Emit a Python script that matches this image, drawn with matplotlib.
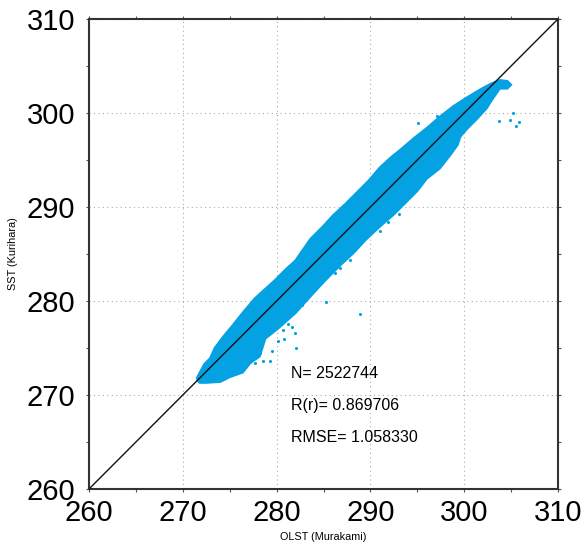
import matplotlib
matplotlib.use("Agg")
import matplotlib.pyplot as plt
from matplotlib.ticker import MultipleLocator

plt.rcParams['font.family'] = ['Liberation Sans', 'DejaVu Sans']

# Outline of the dense point cloud
upper_x = [271.6, 271.5, 271.7, 272.3, 272.9, 273.4, 274.3, 275.3, 276.5, 277.7, 278.8,
           279.8, 281.0, 282.0, 283.6, 285.0, 286.0, 287.3, 288.5, 289.8, 291.0, 292.2,
           293.2, 294.6, 296.0, 297.4, 298.8, 300.2, 301.7, 302.8, 303.8, 304.6, 305.0]
upper_y = [271.5, 271.8, 272.2, 273.3, 273.9, 275.0, 276.2, 277.4, 278.9, 280.3, 281.3,
           282.2, 283.4, 284.3, 286.6, 288.0, 289.1, 290.3, 291.5, 292.8, 294.2, 295.3,
           296.1, 297.3, 298.4, 299.6, 300.7, 301.6, 302.5, 303.1, 303.5, 303.4, 303.0]
lower_x = [304.6, 303.8, 302.9, 302.4, 301.3, 300.3, 299.6, 299.3, 298.5, 297.4, 296.0,
           295.0, 293.9, 292.5, 291.0, 289.5, 288.2, 286.8, 285.3, 283.9, 282.0, 280.2,
           278.8, 278.2, 277.2, 276.4, 275.0, 274.0, 272.5, 271.8]
lower_y = [302.6, 302.6, 301.3, 300.5, 299.3, 298.3, 297.5, 296.6, 295.5, 294.1, 293.0,
           291.7, 290.6, 289.2, 287.9, 286.5, 285.1, 283.8, 282.3, 280.8, 278.7, 277.1,
           276.0, 274.1, 273.4, 272.4, 271.9, 271.4, 271.3, 271.3]

# Isolated points outside the cloud
out_x = [277.7, 278.5, 279.3, 279.5, 280.1, 280.8, 280.7, 281.2, 282.0, 282.1, 288.9,
         285.3, 282.7, 286.8, 287.8, 285.0, 291.0, 291.9, 293.0, 305.2, 303.7, 304.9,
         305.8, 305.5, 295.1, 297.1, 304.5, 278.2, 281.6, 286.2]
out_y = [273.4, 273.6, 273.6, 274.7, 275.7, 276.0, 276.9, 277.6, 276.6, 275.0, 278.6,
         279.9, 279.6, 283.5, 284.4, 282.4, 287.4, 288.4, 289.3, 300.0, 299.2, 299.3,
         299.0, 298.6, 298.9, 299.7, 303.4, 274.5, 277.2, 283.0]

stats_labels = ["N= 2522744", "R(r)= 0.869706", "RMSE= 1.058330"]
stats_y = [272.3, 268.9, 265.5]
stats_x = 281.5

ticks = [260, 270, 280, 290, 300, 310]
color = '#04A1E3'

fig = plt.figure(figsize=(5.84, 5.44), dpi=100)
ax = fig.add_axes([89/584, 1 - 489/544, 469/584, 470/544])

poly_x = upper_x + lower_x
poly_y = upper_y + lower_y
ax.fill(poly_x, poly_y, color=color, lw=1.5, ec=color, zorder=2)
ax.scatter(out_x, out_y, s=5, color=color, lw=0, zorder=2)

ax.plot([260, 310], [260, 310], color='#111111', lw=1.0, zorder=3)

for t, yy in zip(stats_labels, stats_y):
    ax.text(stats_x, yy, t, fontsize=11.5, va='center', ha='left', zorder=4)

ax.set_xlim(260, 310)
ax.set_ylim(260, 310)
ax.set_xticks(ticks)
ax.set_yticks(ticks)
ax.xaxis.set_minor_locator(MultipleLocator(5))
ax.yaxis.set_minor_locator(MultipleLocator(5))
ax.tick_params(which='both', direction='out', length=2, width=0.8, color='#555555',
               top=True, right=True)
ax.tick_params(which='major', labelsize=21, labeltop=False, labelright=False)
ax.tick_params(axis='x', which='major', pad=5)
ax.tick_params(axis='y', which='major', pad=8)
ax.grid(True, which='major', color='#aaaaaa', linestyle=(0, (1, 3)), lw=0.8, zorder=1)
ax.set_axisbelow(True)
for s in ax.spines.values():
    s.set_linewidth(1.5)
    s.set_color('#333333')

ax.set_xlabel('OLST (Murakami)', fontsize=7.8, labelpad=4)
ax.set_ylabel('SST (Kurihara)', fontsize=7.8, labelpad=6)

fig.savefig('out.png', dpi=100)
